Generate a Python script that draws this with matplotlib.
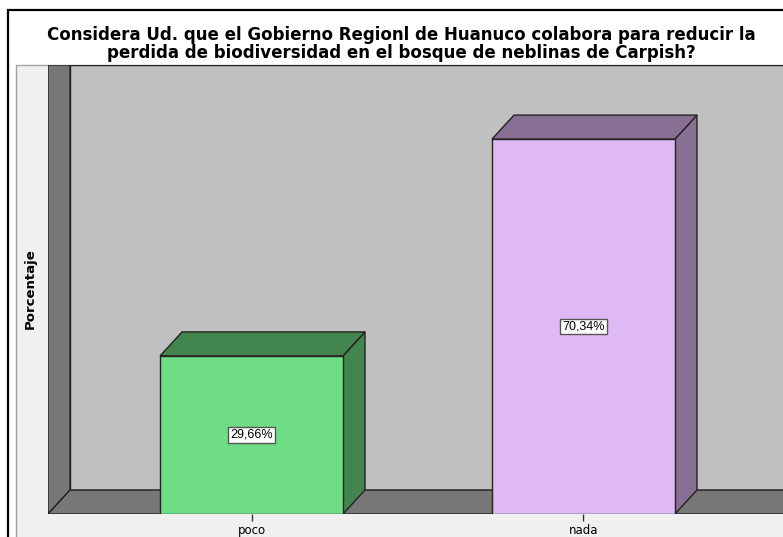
import matplotlib
matplotlib.use("Agg")
import matplotlib.pyplot as plt
from matplotlib.patches import Polygon, Rectangle

plt.rcParams['font.family'] = ['DejaVu Sans']

categories = ["poco", "nada"]
values = [29.66, 70.34]
front_colors = ["#6fdc86", "#dfb9f3"]
side_colors = ["#43854f", "#877093"]
title = ("Considera Ud. que el Gobierno Regionl de Huanuco colabora para reducir la\n"
         "perdida de biodiversidad en el bosque de neblinas de Carpish?")
ylabel = "Porcentaje"

W, H = 783, 537
fig = plt.figure(figsize=(W / 100, H / 100), dpi=100)

# background decoration axes in pixel coordinates
bg = fig.add_axes([0, 0, 1, 1], zorder=0)
bg.set_xlim(0, W)
bg.set_ylim(H, 0)
bg.axis("off")
bg.add_patch(Rectangle((8, 10), W, H, facecolor="white", edgecolor="black", lw=1.6))
bg.add_patch(Rectangle((16, 65), W, H, facecolor="#f0f0f0", edgecolor="#a0a0a0", lw=1.0))

# main axes
ax = fig.add_axes([48 / W, (H - 514) / H, (W - 48) / W, (514 - 65) / H], zorder=1)
xmin, xmax = -0.613, 1.601
ymin, ymax = 0, 84.24
ax.set_xlim(xmin, xmax)
ax.set_ylim(ymin, ymax)
ax.patch.set_alpha(0)
for s in ax.spines.values():
    s.set_visible(False)

DX, DY = 0.0663, 4.5
edge = "#222222"
# back wall
ax.add_patch(Rectangle((xmin + DX, DY), xmax - xmin, ymax - DY, facecolor="#c0c0c0",
                       edgecolor=edge, lw=1.0, zorder=0.5))
# left wall
ax.add_patch(Polygon([(xmin, 0), (xmin + DX, DY), (xmin + DX, ymax), (xmin, ymax)],
                     closed=True, facecolor="#777777", edgecolor=edge, lw=1.0, zorder=0.6))
# floor
ax.add_patch(Polygon([(xmin, 0), (xmin + DX, DY), (xmax + 1, DY), (xmax + 1, 0)],
                     closed=True, facecolor="#777777", edgecolor=edge, lw=1.0, zorder=0.6))

xpos = list(range(len(categories)))
bw = 0.551
ax.bar(xpos, values, width=bw, color=front_colors, edgecolor=edge, lw=1.0, zorder=3)
for x, v, sc in zip(xpos, values, side_colors):
    l, r = x - bw / 2, x + bw / 2
    ax.add_patch(Polygon([(r, 0), (r + DX, DY), (r + DX, v + DY), (r, v)], closed=True,
                         facecolor=sc, edgecolor=edge, lw=1.0, zorder=2.5))
    ax.add_patch(Polygon([(l, v), (l + DX, v + DY), (r + DX, v + DY), (r, v)], closed=True,
                         facecolor=sc, edgecolor=edge, lw=1.0, zorder=2.5))
    ax.text(x, v / 2, f"{v:.2f}%".replace(".", ","), ha="center", va="center", fontsize=9,
            family=["Liberation Sans", "DejaVu Sans"], zorder=4,
            bbox=dict(boxstyle="square,pad=0.15", facecolor="white",
                      edgecolor="#555555", lw=1.0))

ax.set_xticks(xpos)
ax.set_xticklabels(categories, fontsize=8.5)
ax.tick_params(axis="x", length=5, width=1, color="#333333", pad=2)
ax.set_yticks([])

fig.text(30 / W, (H - 289) / H, ylabel, rotation=90, ha="center", va="center",
         fontsize=9.5, fontweight="bold")
fig.text(401 / W, (H - 44) / H, title, ha="center", va="center", fontsize=12,
         fontweight="bold", linespacing=0.95)

fig.savefig("out.png", dpi=100)
